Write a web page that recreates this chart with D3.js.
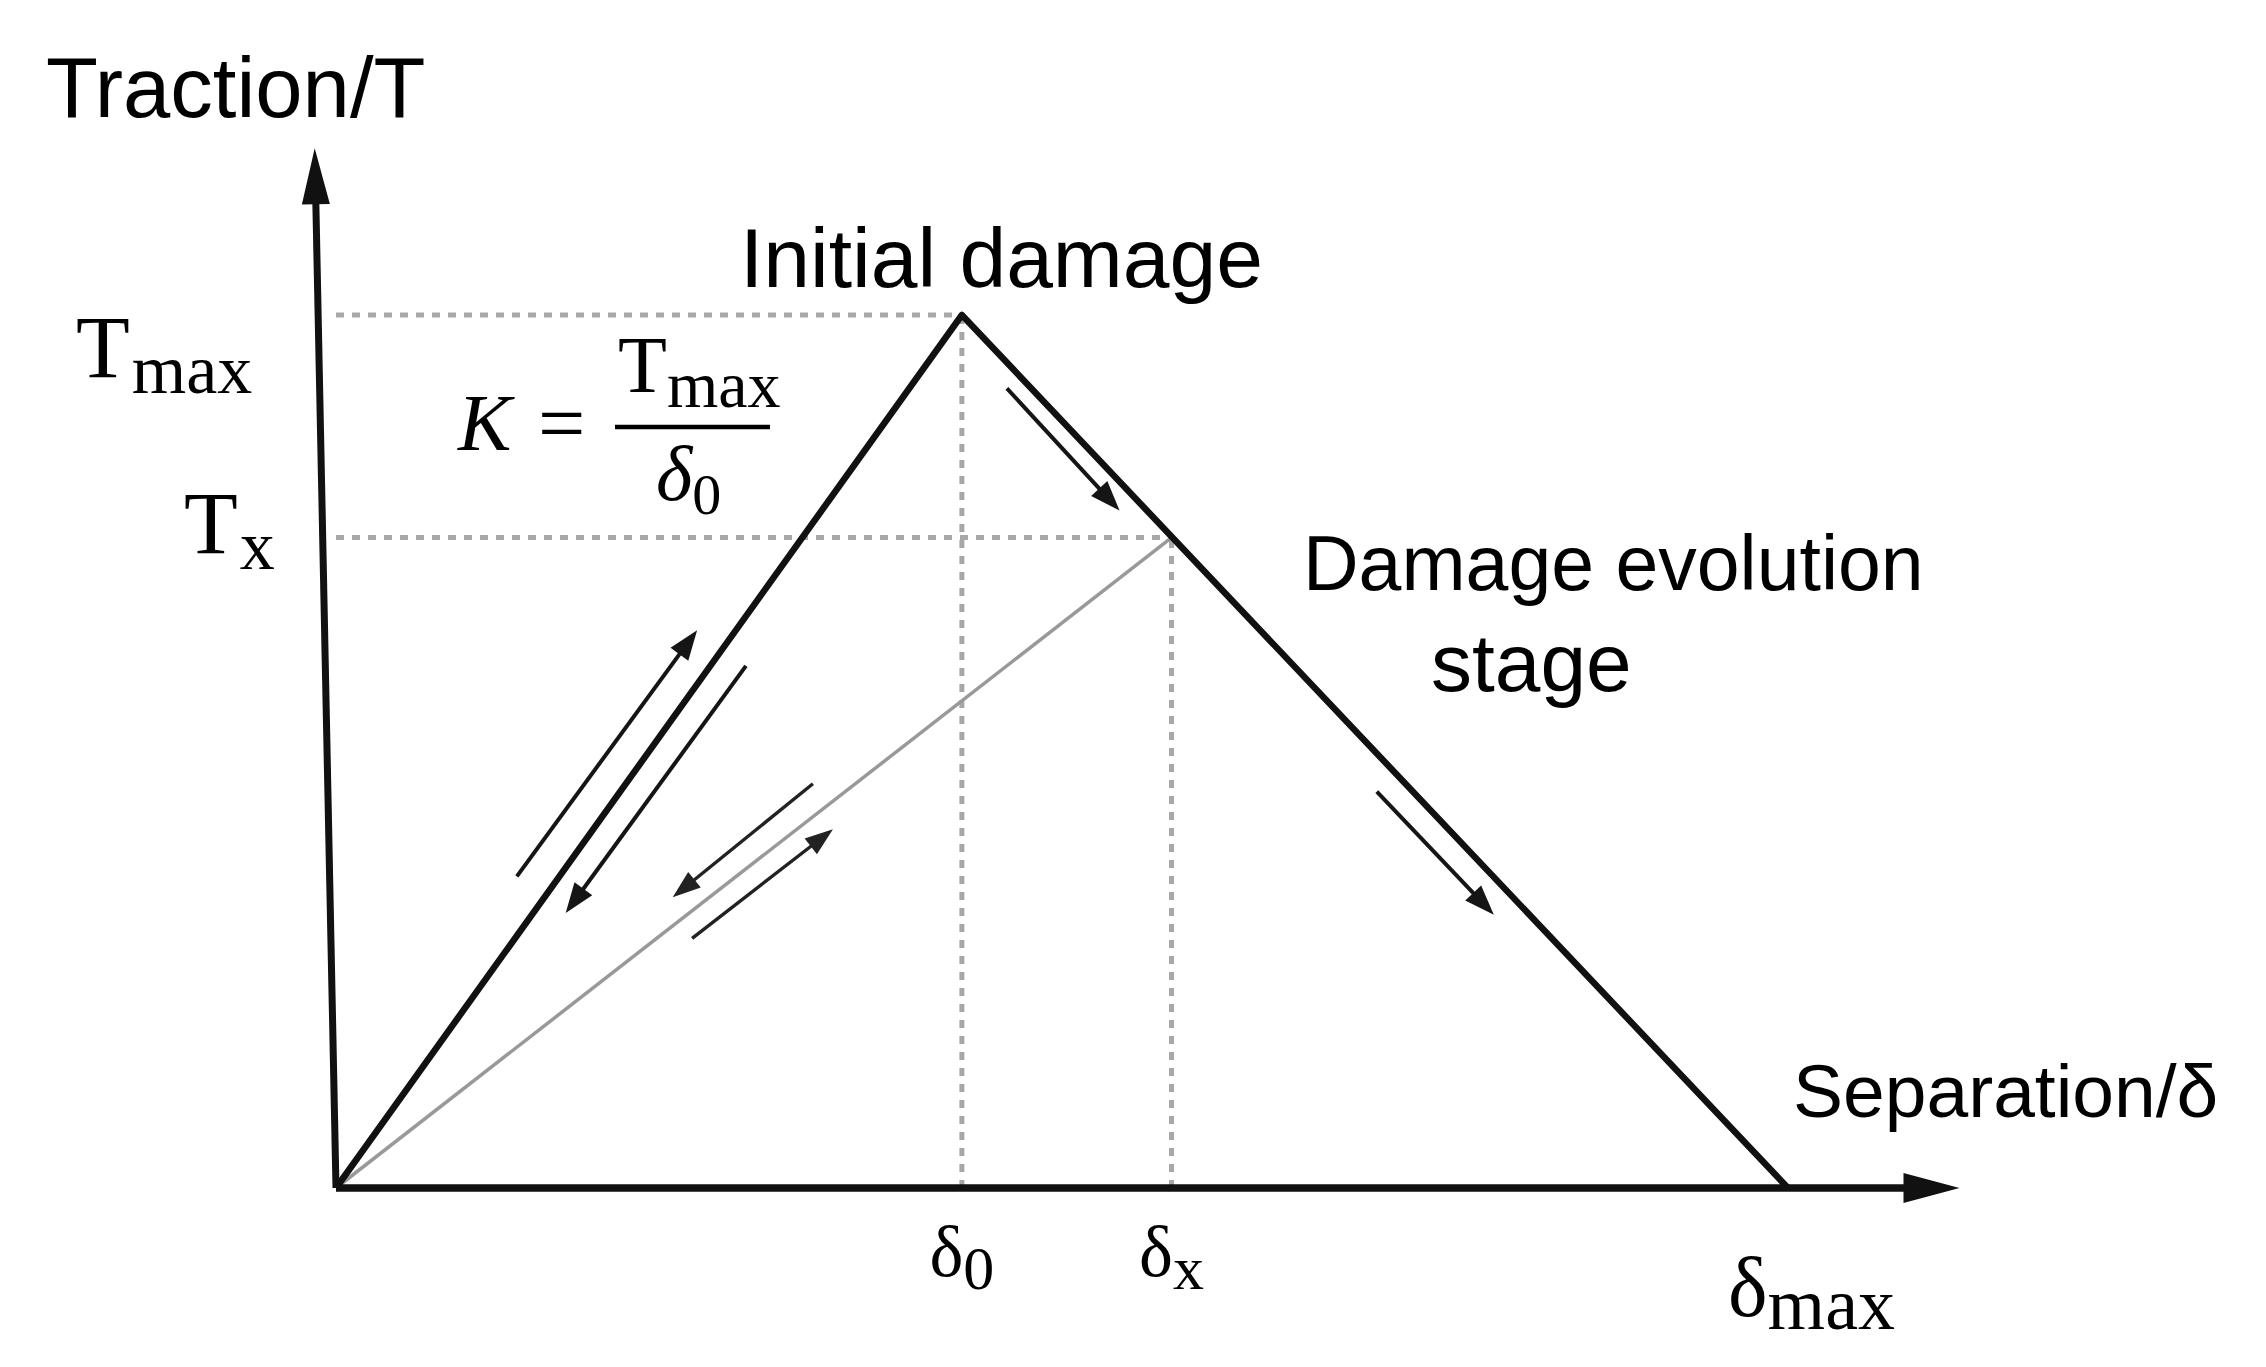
<!DOCTYPE html>
<html>
<head>
<meta charset="utf-8">
<script src="https://cdn.jsdelivr.net/npm/d3@7"></script>
<style>
  body { margin: 0; background: #fff; }
  text { fill: #000; }
</style>
</head>
<body>
<svg width="2266" height="1367"></svg>
<script>
/* global d3 */

const width = 2266,
    height = 1367,
    sans = "'Liberation Sans', Arial, sans-serif",
    serif = "'Liberation Serif', 'Times New Roman', serif";

// separation (in units of δ0) and traction (in units of Tmax)
const sepNames = ["0", "x", "max"];
const sepValues = [1, 1.335, 2.32];
const tracNames = ["max", "x"];
const tracValues = [1, 0.745];

// bilinear traction-separation law and the unloading path from (δx, Tx)
const envelope = [[0, 0], [1, 1], [2.32, 0]];
const unloading = [[0, 0], [1.335, 0.745]];

// axis ends (the drawn y axis leans a little)
const xAxisEnd = [2.594, 0];
const yAxisEnd = [-0.034, 1.191];

// load / unload arrows, [from, to] in data units
const arrowsBlack = [
  [[0.289, 0.357], [0.577, 0.639]],
  [[0.655, 0.598], [0.367, 0.315]],
  [[1.072, 0.916], [1.252, 0.776]],
  [[1.663, 0.454], [1.850, 0.313]]
];
const arrowsGrey = [
  [[0.762, 0.463], [0.538, 0.333]],
  [[0.569, 0.286], [0.794, 0.411]]
];

const x = d3.scaleLinear().domain([0, 2.32]).range([336, 1788]);
const y = d3.scaleLinear().domain([0, 1]).range([1188, 315]);

const svg = d3.select("svg");
const line = d3.line().x(d => x(d[0])).y(d => y(d[1]));

// dotted guide lines
const guides = svg.append("g")
    .attr("stroke", "#a8a8a8")
    .attr("stroke-width", 5)
    .attr("stroke-dasharray", "8,8")
    .attr("fill", "none");

guides.selectAll(".h")
  .data([[sepValues[0], tracValues[0]], [sepValues[1], tracValues[1]]])
  .join("path")
    .attr("d", d => line([[0, d[1]], d]));

guides.selectAll(".v")
  .data([[sepValues[0], tracValues[0]], [sepValues[1], tracValues[1]]])
  .join("path")
    .attr("d", d => line([[d[0], 0], d]));

// unloading line
svg.append("path")
    .attr("d", line(unloading))
    .attr("fill", "none")
    .attr("stroke", "#999")
    .attr("stroke-width", 3.5);

// envelope
svg.append("path")
    .attr("d", line(envelope))
    .attr("fill", "none")
    .attr("stroke", "#111")
    .attr("stroke-width", 6.5)
    .attr("stroke-linejoin", "round");

// arrow helper: line + filled head, tip at the end point
function arrow(g, p0, p1, len, half, sw, col) {
  const x0 = x(p0[0]), y0 = y(p0[1]), x1 = x(p1[0]), y1 = y(p1[1]);
  const dx = x1 - x0, dy = y1 - y0, L = Math.hypot(dx, dy);
  const ux = dx / L, uy = dy / L;
  g.append("line")
      .attr("x1", x0).attr("y1", y0)
      .attr("x2", x1 - ux * len * 0.6).attr("y2", y1 - uy * len * 0.6)
      .attr("stroke", col)
      .attr("stroke-width", sw);
  const bx = x1 - ux * len, by = y1 - uy * len;
  g.append("polygon")
      .attr("points", [
        [x1, y1],
        [bx - uy * half, by + ux * half],
        [bx + uy * half, by - ux * half]
      ].map(p => p.join(",")).join(" "))
      .attr("fill", col);
}

const axes = svg.append("g");
arrow(axes, [0, 0], xAxisEnd, 56, 15, 7.5, "#111");
arrow(axes, [0, 0], yAxisEnd, 56, 14, 7, "#111");

const arr = svg.append("g");
arrowsBlack.forEach(a => arrow(arr, a[0], a[1], 30, 11, 4, "#151515"));
arrowsGrey.forEach(a => arrow(arr, a[0], a[1], 28, 10, 3.4, "#222"));

// axis titles and stage labels
const labels = svg.append("g").attr("font-family", sans);
labels.append("text").attr("x", 46).attr("y", 117).attr("font-size", 85).text("Traction/T");
labels.append("text").attr("x", 740).attr("y", 287).attr("font-size", 84).text("Initial damage");
labels.append("text").attr("x", 1303).attr("y", 590).attr("font-size", 77).text("Damage evolution");
labels.append("text").attr("x", 1431).attr("y", 691).attr("font-size", 82).text("stage");
labels.append("text").attr("x", 1793).attr("y", 1117).attr("font-size", 75).text("Separation/δ");

// T labels on the y axis
const tl = svg.append("g").attr("font-family", serif);
const tPos = [[76, 377], [184, 553]];
tracNames.forEach((n, i) => {
  const t = tl.append("text").attr("x", tPos[i][0]).attr("y", tPos[i][1]).attr("font-size", 88);
  t.append("tspan").text("T");
  t.append("tspan").attr("font-size", 70).attr("dx", 2).attr("dy", 16).text(n);
});

// δ labels under the x axis
const dl = svg.append("g").attr("font-family", serif);
const dSize = [[72, 62], [72, 62], [84, 74]];
const dY = [1276, 1276, 1316];
sepNames.forEach((n, i) => {
  const t = dl.append("text")
      .attr("x", x(sepValues[i]))
      .attr("y", dY[i])
      .attr("font-size", dSize[i][0])
      .attr("text-anchor", i === 2 ? "start" : "middle")
      .attr("dx", i === 2 ? -60 : 0);
  t.append("tspan").text("δ");
  t.append("tspan").attr("font-size", dSize[i][1]).attr("dy", 13).text(n);
});

// stiffness formula K = Tmax / δ0
const f = svg.append("g").attr("font-family", serif);
f.append("text").attr("x", 458).attr("y", 450).attr("font-size", 80)
    .attr("font-style", "italic").text("K");
f.append("text").attr("x", 538).attr("y", 452).attr("font-size", 84).text("=");
f.append("line")
    .attr("x1", 615).attr("x2", 770).attr("y1", 427).attr("y2", 427)
    .attr("stroke", "#000").attr("stroke-width", 4.5);
const num = f.append("text").attr("x", 618).attr("y", 392).attr("font-size", 80);
num.append("tspan").text("T");
num.append("tspan").attr("font-size", 66).attr("dy", 15).text("max");
const den = f.append("text").attr("x", 656).attr("y", 500).attr("font-size", 78);
den.append("tspan").attr("font-style", "italic").text("δ");
den.append("tspan").attr("font-size", 58).attr("dy", 14).text("0");
</script>
</body>
</html>
